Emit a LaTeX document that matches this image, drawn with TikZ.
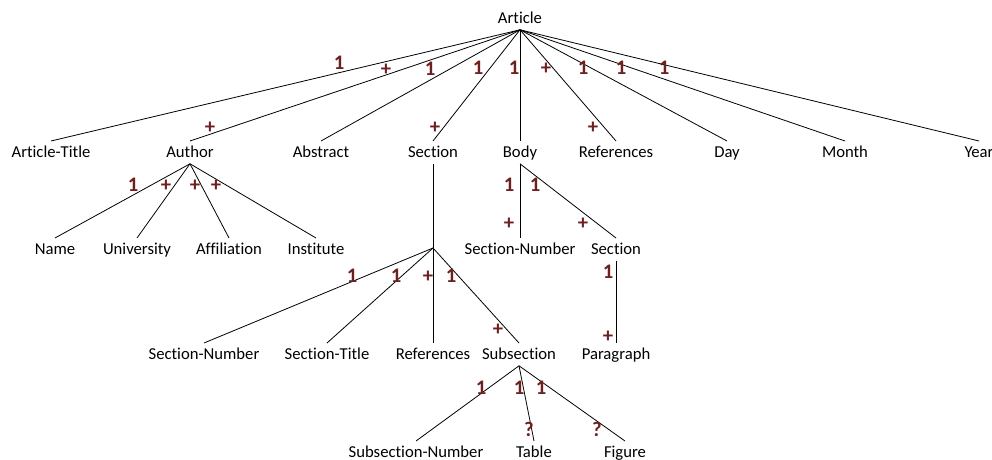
\documentclass[tikz,border=0pt]{standalone}
\usepackage{fontspec}
\setmainfont{Carlito}[Ligatures={NoCommon}]
\definecolor{multred}{RGB}{110,32,32}
\tikzset{
	elem/.style={anchor=north,inner sep=0pt,text height=12pt,text depth=4.5pt,font=\fontsize{12.5}{14}\selectfont},
	mult/.style={text=multred,inner sep=0pt,text height=10pt,text depth=0pt,font=\bfseries\fontsize{15.5}{17}\selectfont},
}
\begin{document}
\begin{tikzpicture}[x=0.75pt,y=-0.75pt,line width=0.6pt]
		\useasboundingbox (0,0) rectangle (992,460);
		% root and first level
		\node[elem] (article) at (520,7) {Article};
		\node[elem] (title) at (51,141) {Article-Title};
		\node[elem] (author) at (190,141) {Author};
		\node[elem] (abstract) at (321,141) {Abstract};
		\node[elem] (section) at (433,141) {Section};
		\node[elem] (body) at (520,141) {Body};
		\node[elem] (refs) at (616,141) {References};
		\node[elem] (day) at (727,141) {Day};
		\node[elem] (month) at (845,141) {Month};
		\node[elem] (year) at (979,141) {Year};
		\foreach \c in {title,author,abstract,section,body,refs,day,month,year}
			\draw (article.south)--(\c.north);
		% author
		\node[elem] (name) at (55,238) {Name};
		\node[elem] (univ) at (137,238) {University};
		\node[elem] (affil) at (229,238) {Affiliation};
		\node[elem] (inst) at (316,238) {Institute};
		\foreach \c in {name,univ,affil,inst}
			\draw (author.south)--(\c.north);
		% body
		\node[elem] (bnum) at (520,238) {Section-Number};
		\node[elem] (bsect) at (616,238) {Section};
		\node[elem] (para) at (616,343) {Paragraph};
		\draw (body.south)--(bnum.north);
		\draw (body.south)--(bsect.north);
		\draw (bsect.south)--(para.north);
		% section
		\coordinate (sjoin) at (433,248);
		\draw (section.south)--(sjoin);
		\node[elem] (snum) at (204,343) {Section-Number};
		\node[elem] (stitle) at (327,343) {Section-Title};
		\node[elem] (srefs) at (433,343) {References};
		\node[elem] (subsec) at (519,343) {Subsection};
		\foreach \c in {snum,stitle,srefs,subsec}
			\draw (sjoin)--(\c.north);
		% subsection
		\node[elem] (subnum) at (416,441) {Subsection-Number};
		\node[elem] (table) at (534,441) {Table};
		\node[elem] (figure) at (625,441) {Figure};
		\foreach \c in {subnum,table,figure}
			\draw (subsec.south)--(\c.north);
		% multiplicities
		\node[mult] (m1) at (339,63) {1};
		\node[mult] (m2) at (386,69) {+};
		\node[mult] (m3) at (210,127) {+};
		\node[mult] (m4) at (430,69) {1};
		\node[mult] (m5) at (478,68) {1};
		\node[mult] (m6) at (435,127) {+};
		\node[mult] (m7) at (514,68) {1};
		\node[mult] (m8) at (546,68) {+};
		\node[mult] (m9) at (593,127) {+};
		\node[mult] (m10) at (583,68) {1};
		\node[mult] (m11) at (621,68) {1};
		\node[mult] (m12) at (664,68) {1};
		\node[mult] (a1) at (133,185) {1};
		\node[mult] (a2) at (166,185) {+};
		\node[mult] (a3) at (195,185) {+};
		\node[mult] (a4) at (216,185) {+};
		\node[mult] (b1) at (509,185) {1};
		\node[mult] (b2) at (535,185) {1};
		\node[mult] (b3) at (509,223) {+};
		\node[mult] (b4) at (583,223) {+};
		\node[mult] (p1) at (608,272) {1};
		\node[mult] (p2) at (608,336) {+};
		\node[mult] (s1) at (352,276) {1};
		\node[mult] (s2) at (396,276) {1};
		\node[mult] (s3) at (428,276) {+};
		\node[mult] (s4) at (451,276) {1};
		\node[mult] (s5) at (498,329) {+};
		\node[mult] (u1) at (481,388) {1};
		\node[mult] (u2) at (519,388) {1};
		\node[mult] (u3) at (541,388) {1};
		\node[mult] (u4) at (529,430) {?};
		\node[mult] (u5) at (597,430) {?};
	\end{tikzpicture}
\end{document}
